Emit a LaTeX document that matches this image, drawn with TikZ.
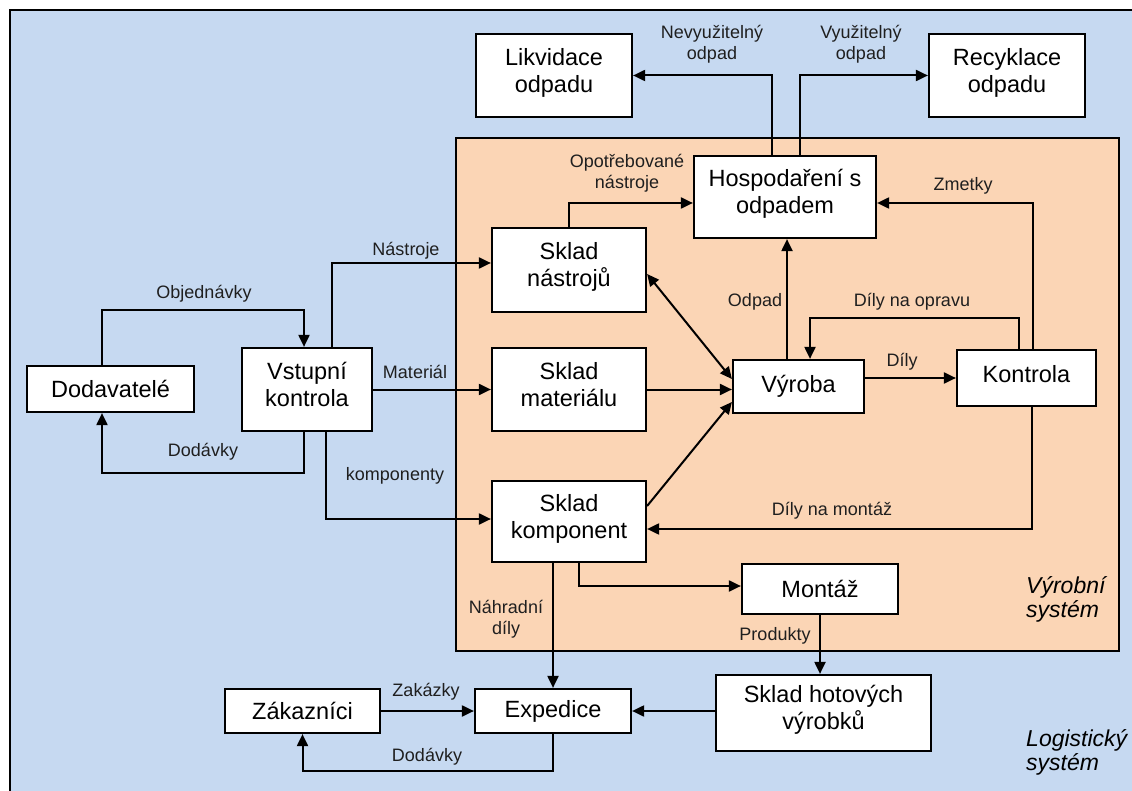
\documentclass[tikz,border=0pt]{standalone}
\usepackage{fontspec}
\setmainfont{Liberation Sans}
\usetikzlibrary{arrows.meta,calc}
\definecolor{logbg}{HTML}{C6D9F1}
\definecolor{prodbg}{HTML}{FBD5B5}
\begin{document}
\begin{tikzpicture}[x=1pt,y=-1pt,
  box/.style={draw=black, line width=2.2pt, fill=white, inner sep=2pt, align=center,
              font=\fontsize{23.5}{27}\selectfont},
  raised/.style={text depth=11pt},
  lbl/.style={align=center, inner sep=0pt, text=black!88, font=\fontsize{18}{21}\selectfont},
  sys/.style={align=left, anchor=west, inner sep=0pt, font=\fontsize{23}{24}\selectfont\itshape},
  arr/.style={line width=2pt, -{Triangle[length=12pt,width=11pt]}},
  biarr/.style={line width=2pt, {Triangle[length=12pt,width=11pt]}-{Triangle[length=12pt,width=11pt]}},
]
\useasboundingbox (0,0) rectangle (1132,791);
\clip (0,0) rectangle (1132,791);
\fill[white] (0,0) rectangle (1132,791);

% logistics system (background) and production system
\draw[fill=logbg, line width=2pt] (10,10) rectangle (1150,810);
\draw[fill=prodbg, line width=2pt] (456,138) rectangle (1119,651);

% boxes
\node[box, raised, minimum width=156pt, minimum height=83pt] (lik)  at (554,75.5)  {Likvidace\\odpadu};
\node[box, raised, minimum width=156pt, minimum height=83pt] (rec)  at (1007,75.5) {Recyklace\\odpadu};
\node[box, raised, minimum width=182pt, minimum height=82pt] (hosp) at (785,197)   {Hospodaření s\\odpadem};
\node[box, raised, minimum width=154pt, minimum height=84pt] (nast) at (569,270)   {Sklad\\nástrojů};
\node[box, raised, minimum width=154pt, minimum height=83pt] (mat)  at (569,389.5) {Sklad\\materiálu};
\node[box, raised, minimum width=154pt, minimum height=81pt] (komp) at (569,521.5) {Sklad\\komponent};
\node[box, raised, minimum width=130pt, minimum height=83pt] (vst)  at (307,389.5) {Vstupní\\kontrola};
\node[box, minimum width=167pt, minimum height=46pt] (dod)  at (110.5,389) {Dodavatelé};
\node[box, minimum width=131pt, minimum height=53pt] (vyr)  at (798.5,386.5) {Výroba};
\node[box, text depth=9pt, minimum width=139pt, minimum height=56pt] (kon)  at (1026.5,378) {Kontrola};
\node[box, minimum width=156pt, minimum height=50pt] (mon)  at (820,589)   {Montáž};
\node[box, minimum width=155pt, minimum height=44pt] (zak)  at (302.5,711) {Zákazníci};
\node[box, minimum width=156pt, minimum height=44pt] (exp)  at (553,711)   {Expedice};
\node[box, raised, minimum width=215pt, minimum height=76pt] (hot)  at (823.5,713) {Sklad hotových\\výrobků};

% waste flows
\draw[arr] ($(hosp.north)+(-13,0)$) |- (lik.east);
\draw[arr] ($(hosp.north)+(15,0)$) |- (rec.west);
\draw[arr] (nast.north) |- ($(hosp.west)+(0,6)$);
\draw[arr] ($(kon.north)+(6.5,0)$) |- ($(hosp.east)+(0,6)$);
\draw[arr] ($(vyr.north)+(-11.5,0)$) -- ($(hosp.south)+(2,0)$);

% production flows
\draw[arr] ($(kon.north)+(-7.5,0)$) -- ++(0,-31) -| ($(vyr.north)+(11.5,0)$);
\draw[arr] (vyr.east |- kon.west) -- (kon.west);
\draw[biarr] ($(nast.east)+(0,4)$) -- ($(vyr.west)+(0,-7.5)$);
\draw[arr] (mat.east) -- (mat.east -| vyr.west);
\draw[arr] ($(komp.east)+(0,-15.5)$) -- ($(vyr.west)+(0,15.5)$);
\draw[arr] ($(kon.south)+(5.5,0)$) |- ($(komp.east)+(0,7.5)$);
\draw[arr] ($(komp.south)+(10,0)$) |- ($(mon.west)+(0,-3)$);

% inbound flows
\draw[arr] ($(vst.north)+(25,0)$) |- ($(nast.west)+(0,-7)$);
\draw[arr] (vst.east) -- (mat.west);
\draw[arr] ($(vst.south)+(19,0)$) |- ($(komp.west)+(0,-2.5)$);
\coordinate (objc) at ($(vst.north)+(-3,-37)$);
\draw[arr] ($(dod.north)+(-8.5,0)$) |- (objc) -- ($(vst.north)+(-3,0)$);
\draw[arr] ($(vst.south)+(-3,0)$) -- ++(0,41) -| ($(dod.south)+(-8.5,0)$);

% outbound flows
\draw[arr] (komp.south -| exp.north) -- (exp.north);
\draw[arr] (mon.south) -- (mon.south |- hot.north);
\draw[arr] (hot.west |- exp.east) -- (exp.east);
\draw[arr] (zak.east) -- (exp.west);
\draw[arr] (exp.south) -- ++(0,37) -| (zak.south);

% flow labels
\node[lbl] at (712,44)  {Nevyužitelný\\odpad};
\node[lbl] at (861,44)  {Využitelný\\odpad};
\node[lbl] at (627,173) {Opotřebované\\nástroje};
\node[lbl] at (963,186) {Zmetky};
\node[lbl] at (406,251) {Nástroje};
\node[lbl] at (204,294) {Objednávky};
\node[lbl] at (203,452) {Dodávky};
\node[lbl] at (415,372) {Materiál};
\node[lbl] at (395,476) {komponenty};
\node[lbl] at (755,302) {Odpad};
\node[lbl] at (912,302) {Díly na opravu};
\node[lbl] at (902,362) {Díly};
\node[lbl] at (832,511) {Díly na montáž};
\node[lbl] at (506,619) {Náhradní\\díly};
\node[lbl] at (775,636) {Produkty};
\node[lbl] at (426,692) {Zakázky};
\node[lbl] at (427,757) {Dodávky};

% system names
\node[sys] at (1026,599) {Výrobní\\systém};
\node[sys] at (1026,752) {Logistický\\systém};
\end{tikzpicture}
\end{document}
